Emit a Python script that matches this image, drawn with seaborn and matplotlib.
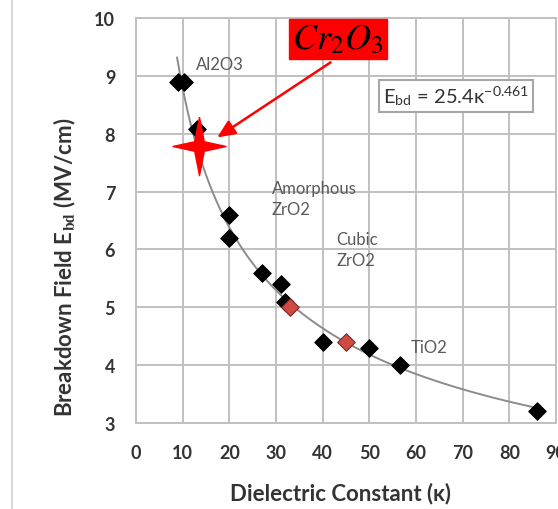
import numpy as np
import matplotlib
matplotlib.use("Agg")
import matplotlib.pyplot as plt
from matplotlib.lines import Line2D
import pandas as pd
import seaborn as sns

# measured points (black diamonds)
kappa = [9.0, 10.3, 13.0, 20.0, 20.0, 27.0, 31.0, 32.0, 40.0, 50.0, 56.5, 86.0]
ebd = [8.9, 8.9, 8.08, 6.6, 6.2, 5.6, 5.4, 5.1, 4.4, 4.3, 4.0, 3.2]
# highlighted points (red diamonds)
kappa_red = [33.0, 45.0]
ebd_red = [5.0, 4.4]
# Cr2O3 star
kappa_star = [13.5]
ebd_star = [7.79]
# fit E = a * k^b
fit_a, fit_b = 25.4, -0.461
fit_range = [8.8, 86.0]

labels = ["Al2O3", "Amorphous\nZrO2", "Cubic\nZrO2", "TiO2"]
label_x = [12.9, 29.1, 42.9, 58.9]
label_y = [9.2, 6.88, 6.0, 4.32]

xticks = [0, 10, 20, 30, 40, 50, 60, 70, 80, 90]
yticks = [3, 4, 5, 6, 7, 8, 9, 10]


def main():
    sns.set_theme(style="whitegrid")
    plt.rcParams['font.family'] = ['Lato', 'DejaVu Sans']
    plt.rcParams['mathtext.fontset'] = 'stix'

    fig = plt.figure(figsize=(5.58, 5.1), dpi=100)
    ax = fig.add_axes([0.2437, 0.1686, 0.7527, 0.7941])

    kk = np.linspace(fit_range[0], fit_range[1], 200)
    fit_df = pd.DataFrame({'k': kk, 'e': fit_a * kk ** fit_b})
    sns.lineplot(x='k', y='e', data=fit_df, ax=ax, color='#8c8c8c', lw=1.4, zorder=2)

    df = pd.DataFrame({'k': kappa, 'e': ebd})
    sns.scatterplot(x='k', y='e', data=df, ax=ax, marker='D', s=80,
                    color='black', edgecolor='black', zorder=3)
    df_red = pd.DataFrame({'k': kappa_red, 'e': ebd_red})
    sns.scatterplot(x='k', y='e', data=df_red, ax=ax, marker='D', s=80,
                    color='#d24a44', edgecolor='#7a2a28', linewidth=0.8, zorder=3)

    star = [(0, 1.1), (0.18, 0.18), (1, 0), (0.18, -0.18), (0, -1.1),
            (-0.18, -0.18), (-1, 0), (-0.18, 0.18), (0, 1.1)]
    ax.plot(kappa_star, ebd_star, marker=star, markersize=42, color='#ff0000',
            linestyle='none', zorder=4)

    for t, x, y in zip(labels, label_x, label_y):
        ax.text(x, y, t, fontsize=12, color='#595959', va='center',
                linespacing=1.35)

    ax.text(68.6, 8.65, r'E$_{\mathregular{bd}}$ = 25.4$\mathregular{\kappa}^{\mathregular{-0.461}}$',
            fontsize=14.5, color='#333333', ha='center', va='center',
            bbox=dict(boxstyle='square,pad=0.2', fc='white', ec='#a6a6a6', lw=1.5))

    ax.annotate('', xy=(16.9, 7.91), xytext=(42.2, 9.26),
                arrowprops=dict(arrowstyle='-|>,head_length=0.9,head_width=0.4',
                                color='#ff0000', lw=1.8), annotation_clip=False, zorder=5)
    ax.text(43.3, 9.64, r'$Cr_2O_3$', fontsize=26, color='black', ha='center',
            va='center', clip_on=False, zorder=6,
            bbox=dict(boxstyle='square,pad=0.1', fc='#ff0000', ec='#ff0000'))

    ax.set_xlim(0, 90)
    ax.set_ylim(3, 10)
    ax.set_xticks(xticks)
    ax.set_yticks(yticks)
    ax.grid(True, color='#c0c0c0', lw=1.4)
    for s in ax.spines.values():
        s.set_color('#c0c0c0')
        s.set_linewidth(1.4)
    ax.tick_params(length=0, labelsize=13, colors='#333333', pad=15)
    for lab in ax.get_xticklabels() + ax.get_yticklabels():
        lab.set_fontweight('bold')

    ax.set_xlabel('Dielectric Constant (κ)', fontsize=16, fontweight='bold', color='#333333')
    ax.set_ylabel(r'Breakdown Field E$_{\mathbf{bd}}$ (MV/cm)', fontsize=16,
                  fontweight='bold', color='#333333')
    ax.xaxis.set_label_coords(0.486, -0.145)
    ax.yaxis.set_label_coords(-0.138, 0.388)

    fig.add_artist(Line2D([0.022, 0.022], [0, 1], color='#d0d0d0', lw=1.2))

    plt.savefig('out.png', dpi=100)


if __name__ == '__main__':
    main()
